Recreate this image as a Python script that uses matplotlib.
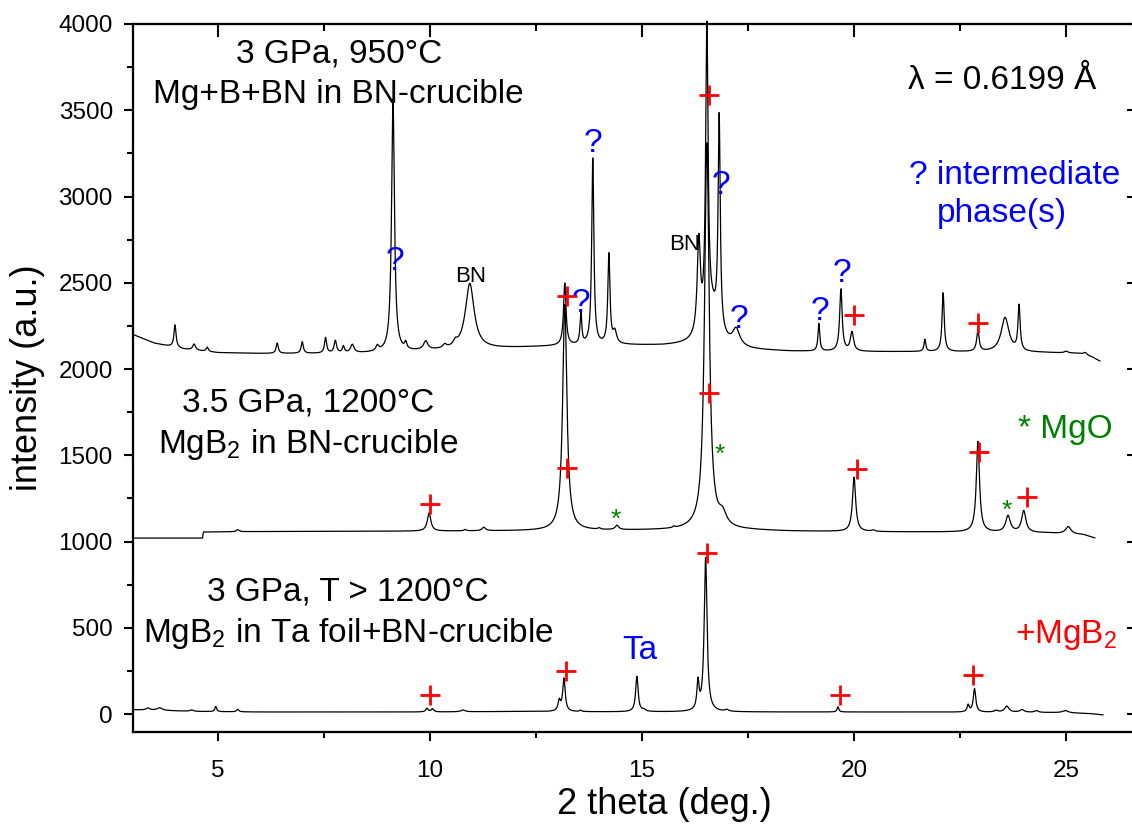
import numpy as np
import matplotlib
matplotlib.use("Agg")
import matplotlib.pyplot as plt
from matplotlib.ticker import MultipleLocator

plt.rcParams["font.family"] = ["Liberation Sans", "DejaVu Sans"]
plt.rcParams["mathtext.fontset"] = "custom"
plt.rcParams["mathtext.rm"] = "Liberation Sans"
plt.rcParams["mathtext.default"] = "regular"

# --- pattern 1: 3 GPa, 950 C, Mg+B+BN in BN crucible (top) ---
bg1_x = [3.0, 3.5, 4.2, 5.0, 6.0, 8.0, 9.0, 10.5, 11.6, 12.5, 13.0, 14.6, 15.5, 16.3, 17.6, 18.5, 20.5, 22.0, 24.5, 25.3, 25.6, 25.8]
bg1_y = [2200, 2150, 2115, 2095, 2090, 2090, 2095, 2110, 2120, 2128, 2132, 2138, 2135, 2140, 2110, 2102, 2100, 2100, 2095, 2090, 2070, 2045]
pk1_pos = [3.99, 4.44, 4.75, 6.40, 6.99, 7.54, 7.77, 7.96, 8.17, 8.76, 9.13, 9.43, 9.90, 10.35, 10.60, 10.94,
           13.18, 13.56, 13.84, 14.22, 14.36, 16.34, 16.53, 16.65, 16.82, 17.22, 19.17, 19.69, 19.95,
           21.67, 22.10, 22.92, 23.56, 23.89, 25.00, 25.45]
pk1_h = [130, 35, 25, 60, 67, 90, 72, 38, 48, 30, 1465, 38, 50, 20, 25, 380,
         360, 180, 1080, 520, 70, 540, 1720, 180, 1230, 95, 160, 360, 110,
         70, 340, 120, 200, 260, 10, 15]
pk1_w = [0.06, 0.08, 0.06, 0.06, 0.06, 0.06, 0.07, 0.06, 0.10, 0.08, 0.08, 0.06, 0.12, 0.10, 0.10, 0.25,
         0.07, 0.05, 0.06, 0.06, 0.10, 0.09, 0.07, 0.35, 0.06, 0.20, 0.05, 0.07, 0.09,
         0.05, 0.06, 0.07, 0.22, 0.06, 0.10, 0.10]

# --- pattern 2: 3.5 GPa, 1200 C, MgB2 in BN crucible (middle) ---
bg2_x = [3.0, 4.64, 4.66, 6.0, 10.0, 12.0, 14.0, 15.5, 16.2, 17.5, 18.5, 20.5, 22.5, 24.5, 25.4, 25.68]
bg2_y = [1020, 1020, 1055, 1058, 1060, 1062, 1064, 1066, 1068, 1066, 1060, 1056, 1055, 1050, 1040, 1020]
pk2_pos = [5.47, 9.98, 10.83, 11.27, 13.18, 13.99, 14.41, 15.75, 16.53, 16.90, 20.00, 20.45, 22.92, 23.63, 24.00, 25.05]
pk2_h = [12, 105, 8, 20, 1310, 8, 25, 8, 2240, 70, 315, 8, 525, 95, 125, 42]
pk2_w = [0.08, 0.10, 0.06, 0.10, 0.12, 0.06, 0.10, 0.05, 0.13, 0.22, 0.09, 0.10, 0.09, 0.13, 0.12, 0.15]

# --- pattern 3: 3 GPa, T > 1200 C, MgB2 in Ta foil (bottom) ---
bg3_x = [3.0, 3.5, 4.5, 6.0, 10.0, 12.0, 14.0, 18.0, 21.0, 24.0, 25.0, 25.6, 25.87]
bg3_y = [25, 22, 15, 12, 12, 15, 13, 12, 12, 10, 8, 2, -5]
pk3_pos = [3.35, 3.63, 4.38, 4.95, 5.47, 9.93, 10.06, 10.78, 13.05, 13.16, 13.55, 14.88, 15.05,
           16.32, 16.50, 17.00, 19.62, 22.69, 22.84, 23.35, 23.60, 23.96, 24.30, 24.98]
pk3_h = [12, 15, 8, 30, 15, 20, 18, 10, 60, 190, 8, 205, 10,
         160, 890, 10, 30, 40, 135, 10, 35, 15, 10, 12]
pk3_w = [0.10, 0.15, 0.10, 0.05, 0.06, 0.07, 0.07, 0.12, 0.07, 0.07, 0.05, 0.07, 0.10,
         0.06, 0.08, 0.10, 0.05, 0.06, 0.07, 0.10, 0.12, 0.12, 0.10, 0.15]

# --- peak labels ---
mgb2_x = [13.23, 16.58, 20.00, 22.92, 10.00, 13.23, 16.58, 20.07, 22.95, 24.08, 10.00, 13.21, 16.53, 19.67, 22.81]
mgb2_y = [2423, 3588, 2313, 2267, 1217, 1426, 1861, 1420, 1519, 1258, 110, 249, 933, 110, 226]
unk_x = [9.17, 13.56, 13.84, 16.86, 17.29, 19.20, 19.72]
unk_y = [2643, 2400, 3328, 3084, 2307, 2354, 2574]
mgo_x = [14.39, 16.84, 23.61]
mgo_y = [1171, 1548, 1223]
bn_x = [10.97, 16.00]
bn_y = [2504, 2690]


def pattern(x, bg_x, bg_y, pos, h, w):
    y = np.interp(x, bg_x, bg_y)
    for p, a, f in zip(pos, h, w):
        y = y + a / (1 + ((x - p) / (f / 2)) ** 2)
    return y


fig = plt.figure(figsize=(11.32, 8.27), dpi=100)
ax = fig.add_axes([133 / 1132, 1 - 732 / 827, 1001 / 1132, 708 / 827])

x1 = np.arange(3.0, 25.8, 0.004)
x2 = np.arange(3.0, 25.68, 0.004)
x3 = np.arange(3.0, 25.87, 0.004)
ax.plot(x1, pattern(x1, bg1_x, bg1_y, pk1_pos, pk1_h, pk1_w), color="black", lw=0.9, clip_on=False)
ax.plot(x2, pattern(x2, bg2_x, bg2_y, pk2_pos, pk2_h, pk2_w), color="black", lw=0.9)
ax.plot(x3, pattern(x3, bg3_x, bg3_y, pk3_pos, pk3_h, pk3_w), color="black", lw=0.9)

ax.plot(mgb2_x, mgb2_y, "+", color="red", ms=14, mew=2)
for x, y in zip(unk_x, unk_y):
    ax.annotate("?", (x, y), xytext=(0, -8.5), textcoords="offset points",
                ha="center", va="baseline", fontsize=24, color="blue")
for x, y in zip(mgo_x, mgo_y):
    ax.annotate("*", (x, y), xytext=(0, -10.5), textcoords="offset points",
                ha="center", va="baseline", fontsize=19, color="green")
for x, y in zip(bn_x, bn_y):
    ax.text(x, y, "BN", ha="center", va="baseline", fontsize=16)
ax.text(14.95, 319, "Ta", ha="center", va="baseline", fontsize=24, color="blue")

ax.text(7.87, 3774, "3 GPa, 950°C", ha="center", va="baseline", fontsize=24)
ax.text(7.84, 3542, "Mg+B+BN in BN-crucible", ha="center", va="baseline", fontsize=24)
ax.text(7.13, 1751, "3.5 GPa, 1200°C", ha="center", va="baseline", fontsize=24)
ax.text(7.12, 1513, "MgB$_2$ in BN-crucible", ha="center", va="baseline", fontsize=24)
ax.text(8.07, 661, "3 GPa, T > 1200°C", ha="center", va="baseline", fontsize=24)
ax.text(8.07, 417, "MgB$_2$ in Ta foil+BN-crucible", ha="center", va="baseline", fontsize=24)

ax.text(21.27, 3623, "λ = 0.6199 Å", ha="left", va="baseline", fontsize=24)
ax.text(21.30, 3072, "? intermediate", ha="left", va="baseline", fontsize=24, color="blue")
ax.text(21.96, 2852, "phase(s)", ha="left", va="baseline", fontsize=24, color="blue")
ax.text(23.87, 1600, "* MgO", ha="left", va="baseline", fontsize=24, color="green")
ax.text(23.80, 412, "+MgB$_2$", ha="left", va="baseline", fontsize=24, color="red")

ax.set_xlim(3, 26.6)
ax.set_ylim(-104, 4000)
ax.xaxis.set_major_locator(MultipleLocator(5))
ax.xaxis.set_minor_locator(MultipleLocator(2.5))
ax.yaxis.set_major_locator(MultipleLocator(500))
ax.yaxis.set_minor_locator(MultipleLocator(250))
ax.tick_params(which="both", direction="out", width=1.5, labelsize=17.5)
ax.tick_params(which="major", length=6.5)
ax.tick_params(which="minor", length=4.5)
ax.tick_params(axis="x", which="major", pad=14)
ax.tick_params(axis="y", which="major", pad=8)
for side in ["left", "bottom", "top", "right"]:
    ax.spines[side].set_linewidth(1.5)

# top and right ticks point inward, no labels
ax_top = ax.twiny()
ax_top.set_xlim(ax.get_xlim())
ax_top.xaxis.set_major_locator(MultipleLocator(5))
ax_top.xaxis.set_minor_locator(MultipleLocator(2.5))
ax_top.tick_params(axis="x", which="both", direction="in", width=1.5, labeltop=False)
ax_top.tick_params(axis="x", which="major", length=9)
ax_top.tick_params(axis="x", which="minor", length=5)
ax_top.tick_params(axis="y", left=False, right=False, labelleft=False, labelright=False)
ax_right = ax.twinx()
ax_right.set_ylim(ax.get_ylim())
ax_right.yaxis.set_major_locator(MultipleLocator(500))
ax_right.tick_params(axis="y", which="major", direction="in", width=1.5, length=5, labelright=False)
ax_right.tick_params(axis="y", which="minor", right=False)
for a in (ax_top, ax_right):
    for side in ["left", "bottom", "top", "right"]:
        a.spines[side].set_linewidth(1.5)

ax.set_xlabel("2 theta (deg.)", fontsize=26)
ax.set_ylabel("intensity (a.u.)", fontsize=26)
ax.xaxis.set_label_coords(0.531, -0.078)
ax.yaxis.set_label_coords(-0.088, 0.5)

fig.savefig("out.png", dpi=100)
